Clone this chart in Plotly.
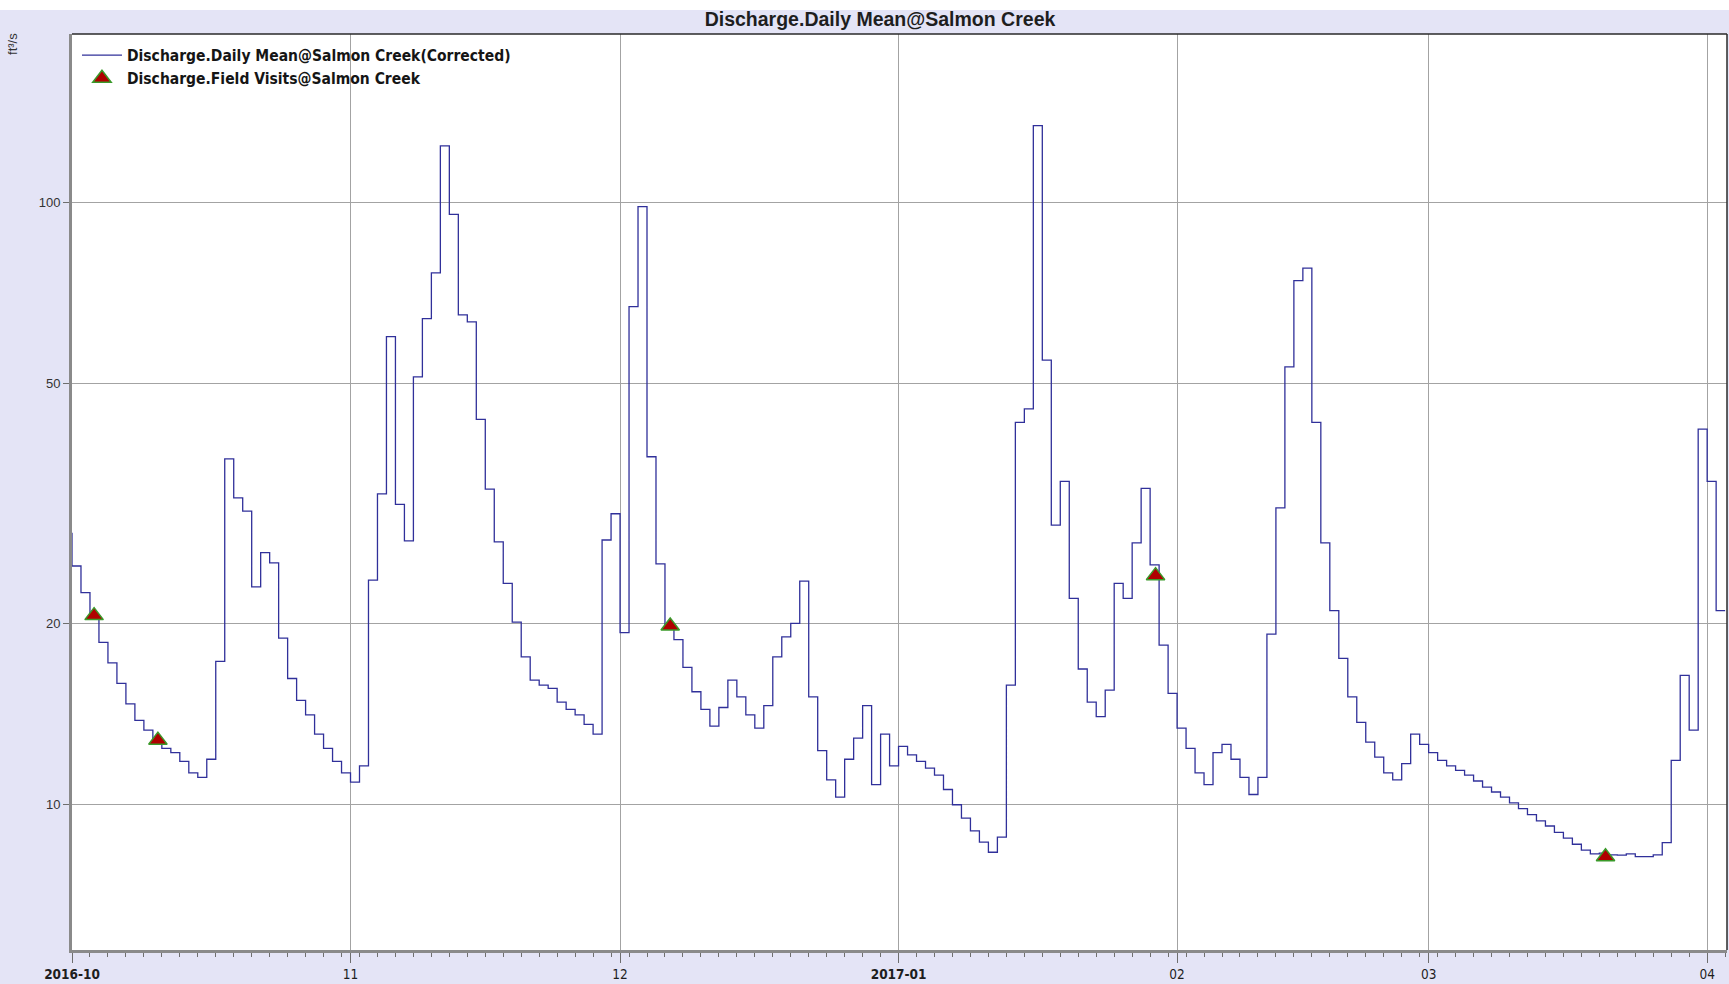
import pandas as pd
import plotly.graph_objects as go

# Daily mean discharge (ft³/s), one value per day starting 2016-09-30
start_date = "2016-09-30"
daily_mean = [
    28.2,
    # October 2016
    24.9, 22.5, 20.6, 18.6, 17.2, 15.9, 14.7, 13.8, 13.3, 12.7,
    12.4, 12.2, 11.8, 11.3, 11.1, 11.9, 17.3, 37.5, 32.3, 30.7,
    23.0, 26.2, 25.2, 18.9, 16.2, 14.9, 14.1, 13.1, 12.4, 11.8, 11.3,
    # November 2016
    10.9, 11.6, 23.6, 32.8, 59.8, 31.5, 27.4, 51.3, 64.1, 76.3,
    124.0, 95.4, 65.0, 63.3, 43.6, 33.4, 27.3, 23.3, 20.1, 17.6,
    16.1, 15.8, 15.6, 14.8, 14.4, 14.1, 13.6, 13.1, 27.5, 30.4,
    # December 2016
    19.3, 67.1, 98.3, 37.8, 25.1, 19.8, 18.8, 16.9, 15.4, 14.4,
    13.5, 14.5, 16.1, 15.1, 14.1, 13.4, 14.6, 17.6, 19.0, 20.0,
    23.5, 15.1, 12.3, 11.0, 10.3, 11.9, 12.9, 14.6, 10.8, 13.1, 11.6,
    # January 2017
    12.5, 12.1, 11.8, 11.5, 11.2, 10.6, 10.0, 9.5, 9.05, 8.67,
    8.34, 8.84, 15.8, 43.1, 45.4, 134.0, 54.7, 29.1, 34.4, 22.0,
    16.8, 14.8, 14.0, 15.5, 23.3, 22.0, 27.2, 33.5, 25.0, 18.4, 15.3,
    # February 2017
    13.4, 12.4, 11.3, 10.8, 12.2, 12.6, 11.9, 11.1, 10.4, 11.1,
    19.2, 31.1, 53.3, 74.1, 77.7, 43.1, 27.2, 21.0, 17.5, 15.1,
    13.7, 12.7, 12.0, 11.3, 11.0, 11.7, 13.1, 12.6,
    # March 2017
    12.2, 11.85, 11.6, 11.4, 11.2, 10.95, 10.7, 10.5, 10.3, 10.07,
    9.85, 9.63, 9.4, 9.22, 9.0, 8.8, 8.6, 8.41, 8.29, 8.31,
    8.26, 8.25, 8.29, 8.2, 8.2, 8.26, 8.65, 11.85, 16.4, 13.3, 42.0,
    # April 2017
    34.4, 21.0, 21.0,
]
daily_dates = pd.date_range(start_date, periods=len(daily_mean), freq="D")

# Field visit discharge measurements
visit_times = [
    "2016-10-03 11:00", "2016-10-10 13:30", "2016-12-06 14:00",
    "2017-01-29 14:30", "2017-03-20 16:30",
]
visit_values = [20.6, 12.8, 19.8, 24.0, 8.2]

# Month tick marks and their labels
month_ticks = ["2016-10-01", "2016-11-01", "2016-12-01", "2017-01-01",
               "2017-02-01", "2017-03-01", "2017-04-01"]
month_labels = ["<b>2016-10</b>", "11", "12", "<b>2017-01</b>", "02", "03", "04"]

value_ticks = [10, 20, 50, 100]
value_labels = ["10", "20", "50", "100"]

BG = "#E4E4F6"
GRID = "#A3A3A3"
AXIS = "#8A8A8A"
NARROW = "DejaVu Sans Condensed, Liberation Sans Narrow, Arial Narrow, sans-serif"

fig = go.Figure()
fig.add_trace(go.Scatter(
    x=daily_dates, y=daily_mean, mode="lines",
    name="Discharge.Daily Mean@Salmon Creek(Corrected)",
    line=dict(shape="hv", color="#30309A", width=1.3),
    hoverinfo="skip",
))
fig.add_trace(go.Scatter(
    x=pd.to_datetime(visit_times), y=visit_values, mode="markers",
    name="Discharge.Field Visits@Salmon Creek",
    marker=dict(symbol="triangle-up", size=16, color="#B00000",
                line=dict(color="#3A9A2A", width=1.5)),
))

plot_h = 984 - 34 - 32
fig.update_layout(
    width=1729, height=984,
    margin=dict(l=72, r=2, t=34, b=32, pad=0),
    paper_bgcolor=BG, plot_bgcolor="white",
    showlegend=True,
    title=dict(
        text="Discharge.Daily Mean@Salmon Creek",
        x=880 / 1729, xref="container", xanchor="center",
        y=1 - 19 / 984, yref="container", yanchor="middle",
        font=dict(family="Liberation Sans", size=19.5, color="#1E1E1E", weight="bold"),
    ),
    legend=dict(
        x=0.003, y=0.995, xanchor="left", yanchor="top",
        bgcolor="rgba(0,0,0,0)", borderwidth=0,
        font=dict(family=NARROW, size=15.5, color="#151515", weight="bold"),
        tracegroupgap=0, itemwidth=40,
    ),
    xaxis=dict(
        type="date",
        range=["2016-10-01", "2017-04-03 05:00"],
        tickmode="array", tickvals=month_ticks, ticktext=month_labels,
        tickfont=dict(family=NARROW, size=13.5, color="#1E1E1E"),
        showgrid=True, gridcolor=GRID, gridwidth=1,
        ticks="outside", ticklen=10, tickcolor="#6E6E6E", tickwidth=1,
        minor=dict(dtick=2 * 86400000, tick0="2016-10-01", ticks="outside",
                   ticklen=4, tickcolor="#6E6E6E", showgrid=False),
        showline=True, linecolor=AXIS, linewidth=3,
        zeroline=False, fixedrange=True,
    ),
    yaxis=dict(
        type="log", range=[0.759, 2.279],
        tickmode="array", tickvals=value_ticks, ticktext=value_labels,
        tickfont=dict(family="Liberation Sans", size=13, color="#333333"),
        showgrid=True, gridcolor=GRID, gridwidth=1,
        ticks="outside", ticklen=6, tickcolor="#6E6E6E",
        showline=True, linecolor=AXIS, linewidth=3,
        zeroline=False, fixedrange=True,
    ),
    shapes=[
        # white strip along the top of the page
        dict(type="rect", xref="paper", yref="paper",
             x0=-0.1, x1=1.1, y0=1 + 24 / plot_h, y1=1 + 40 / plot_h,
             fillcolor="white", line=dict(width=0), layer="below"),
        # thin dark frame on the top and right sides
        dict(type="line", xref="paper", yref="paper", x0=0, x1=1, y0=1, y1=1,
             line=dict(color="#2A2A2A", width=1.5)),
        dict(type="line", xref="paper", yref="paper", x0=1, x1=1, y0=0, y1=1,
             line=dict(color="#2A2A2A", width=1.5)),
    ],
    annotations=[
        dict(text="ft³/s", xref="paper", yref="paper",
             x=(13 - 72) / 1655, y=1 - 10 / plot_h,
             xanchor="center", yanchor="middle", textangle=-90, showarrow=False,
             font=dict(family="Liberation Sans", size=13, color="#333333")),
    ],
)

fig.write_html("out.html")
